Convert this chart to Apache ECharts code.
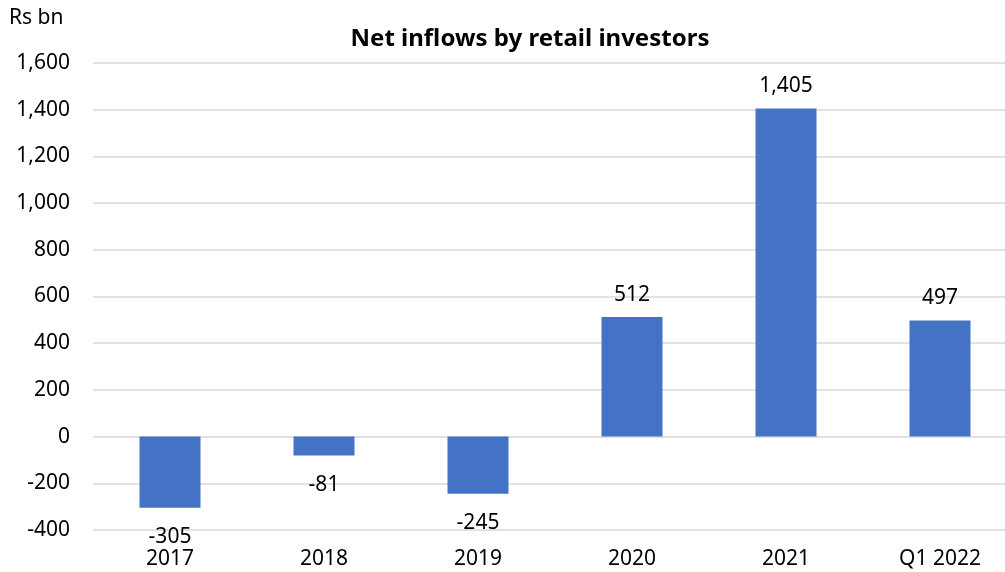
<!DOCTYPE html>
<html>
<head>
<meta charset="utf-8">
<script src="https://cdn.jsdelivr.net/npm/echarts@6/dist/echarts.min.js"></script>
<style>
html,body{margin:0;padding:0;background:#fff;}
#chart{width:1005px;height:572px;}
</style>
</head>
<body>
<div id="chart"></div>
<script>
const categories = ['2017', '2018', '2019', '2020', '2021', 'Q1 2022'];
const netInflows = [-305, -81, -245, 512, 1405, 497];
const titleText = 'Net inflows by retail investors';
const unitLabel = 'Rs bn';

const FONT = 'Noto Sans';
const FS = 21;
const chart = echarts.init(document.getElementById('chart'));
chart.setOption({
  animation: false,
  backgroundColor: '#fff',
  textStyle: { fontFamily: FONT },
  title: {
    text: titleText,
    left: 525,
    top: 22,
    textAlign: 'center',
    textStyle: { fontFamily: FONT, fontSize: 24, fontWeight: 'bold', color: '#000' }
  },
  graphic: [{
    type: 'text', left: 9, top: 8,
    style: { text: unitLabel, fontFamily: FONT, fontSize: FS, fill: '#000' }
  }],
  grid: { left: 93, top: 63, width: 924, height: 467, containLabel: false, outerBoundsMode: 'none' },
  xAxis: {
    type: 'category',
    data: categories,
    axisLine: { show: false },
    axisTick: { show: false },
    axisLabel: { fontFamily: FONT, fontSize: FS, color: '#000', margin: 19 }
  },
  yAxis: {
    type: 'value',
    min: -400, max: 1600, interval: 200,
    axisLine: { show: false },
    axisTick: { show: false },
    splitLine: { lineStyle: { color: '#d9d9d9', width: 1.5 } },
    axisLabel: {
      fontFamily: FONT, fontSize: FS, color: '#000', margin: 23,
      formatter: v => v.toLocaleString('en-US')
    }
  },
  series: [{
    type: 'bar',
    data: netInflows.map(v => ({
      value: v,
      label: { position: v < 0 ? 'bottom' : 'top', distance: v < 0 ? 19 : 12 }
    })),
    barWidth: 61,
    itemStyle: { color: '#4472C4' },
    label: {
      show: true,
      fontFamily: FONT, fontSize: FS, color: '#000',
      formatter: p => p.value.toLocaleString('en-US')
    }
  }]
});
</script>
</body>
</html>
